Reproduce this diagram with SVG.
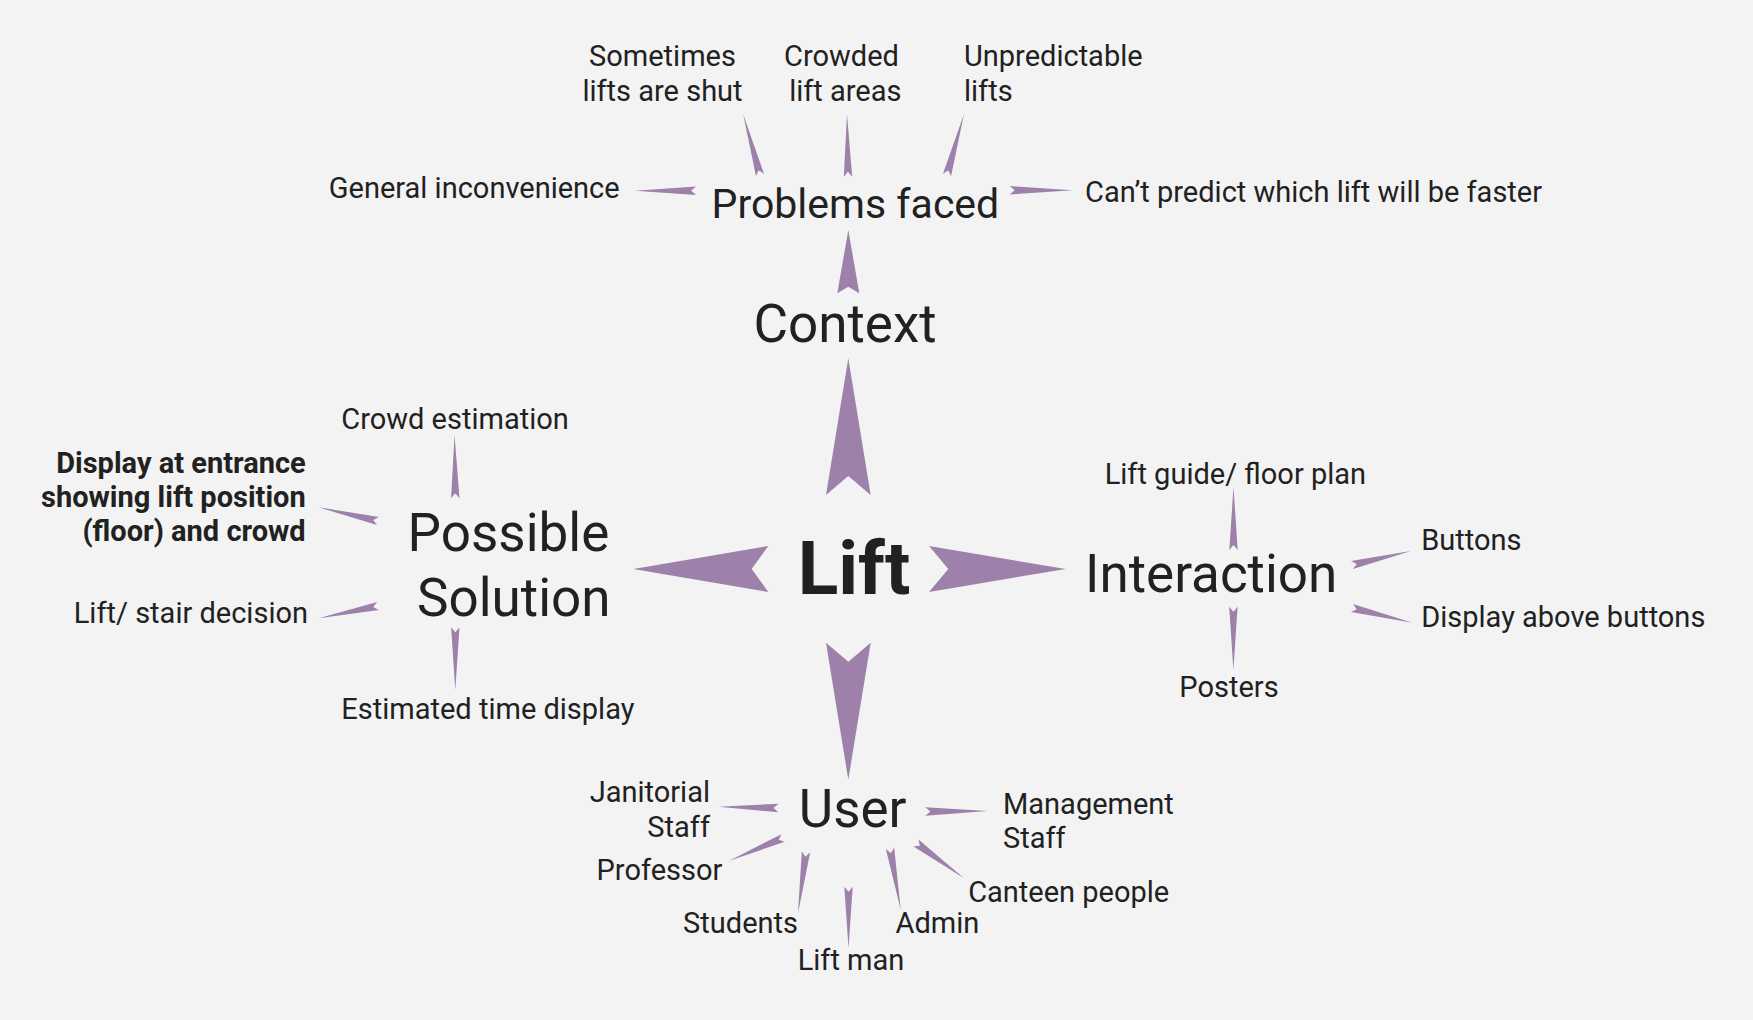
<svg xmlns="http://www.w3.org/2000/svg" xmlns:xlink="http://www.w3.org/1999/xlink" width="1753" height="1020" viewBox="0 0 1753 1020">
<style>
.t{font-family:Roboto,"Liberation Sans",sans-serif;font-size:29px;fill:#212121}
.b{font-weight:bold}
.m{font-size:53px}
.lift{font-size:75px}
.pf{font-size:41px}
.d{fill:#9d81ab}
</style>
<defs>
<path id="sd" d="M0,-4.2 L100,0 L0,4.2 L8,0 Z"/>
</defs>
<rect width="1753" height="1020" fill="#f3f3f3"/>
<g id="connectors" class="d">
<polygon points="848.3,358.3 870.7,495 848.3,476 826,495"/>
<polygon points="633.3,569 768.3,546 751.7,569 768.3,592"/>
<polygon points="1065.7,569 929,546 948.3,569 929,592"/>
<polygon points="848.3,779.7 870.7,642.7 848.3,661.7 826,642.7"/>
<polygon points="848.3,230 859.3,293.3 848.3,286.7 837.3,293.3"/>
<use xlink:href="#sd" transform="translate(760,175) rotate(-105.5) scale(0.63,1)"/>
<use xlink:href="#sd" transform="translate(848,176.7) rotate(-90.9) scale(0.624,1)"/>
<use xlink:href="#sd" transform="translate(947,175) rotate(-74.4) scale(0.63,1)"/>
<use xlink:href="#sd" transform="translate(696,190.7) rotate(180) scale(0.613,1)"/>
<use xlink:href="#sd" transform="translate(1009.6,190.3) rotate(0) scale(0.631,1)"/>
<use xlink:href="#sd" transform="translate(455.3,498.3) rotate(-90.7) scale(0.633,1)"/>
<use xlink:href="#sd" transform="translate(378,521) rotate(-167) scale(0.609,1)"/>
<use xlink:href="#sd" transform="translate(378,606) rotate(168.3) scale(0.606,1)"/>
<use xlink:href="#sd" transform="translate(455.3,627.3) rotate(90) scale(0.627,1)"/>
<use xlink:href="#sd" transform="translate(1233.5,550) rotate(-90) scale(0.633,1)"/>
<use xlink:href="#sd" transform="translate(1352,565) rotate(-13.3) scale(0.606,1)"/>
<use xlink:href="#sd" transform="translate(1352,608) rotate(13.7) scale(0.621,1)"/>
<use xlink:href="#sd" transform="translate(1233.4,606.7) rotate(90) scale(0.633,1)"/>
<use xlink:href="#sd" transform="translate(778.4,808) rotate(181.2) scale(0.6,1)"/>
<use xlink:href="#sd" transform="translate(925.3,811.5) rotate(-0.5) scale(0.625,1)"/>
<use xlink:href="#sd" transform="translate(783,838) rotate(157.1) scale(0.582,1)"/>
<use xlink:href="#sd" transform="translate(806,851.7) rotate(97.4) scale(0.621,1)"/>
<use xlink:href="#sd" transform="translate(848.5,886.7) rotate(90) scale(0.616,1)"/>
<use xlink:href="#sd" transform="translate(890,848.3) rotate(80.1) scale(0.626,1)"/>
<use xlink:href="#sd" transform="translate(916,843) rotate(36.3) scale(0.596,1)"/>
</g>
<g id="lift"><text class="t b lift" x="854" y="594" text-anchor="middle">Lift</text></g>
<g id="context"><text class="t m" x="845" y="342" text-anchor="middle">Context</text></g>
<g id="problems-faced"><text class="t pf" x="855.4" y="218" text-anchor="middle">Problems faced</text></g>
<g id="sometimes-shut"><text class="t" text-anchor="middle"><tspan x="662.5" y="66">Sometimes</tspan><tspan x="662.5" y="100.5">lifts are shut</tspan></text></g>
<g id="crowded-lift-areas"><text class="t" text-anchor="middle"><tspan x="841.5" y="66">Crowded</tspan><tspan x="845.3" y="100.5">lift areas</tspan></text></g>
<g id="unpredictable-lifts"><text class="t"><tspan x="964" y="66">Unpredictable</tspan><tspan x="964" y="100.5">lifts</tspan></text></g>
<g id="general-inconvenience"><text class="t" x="619.7" y="198" text-anchor="end">General inconvenience</text></g>
<g id="cant-predict"><text class="t" x="1085" y="202">Can’t predict which lift will be faster</text></g>
<g id="possible-solution"><text class="t m"><tspan x="407.6" y="551.3">Possible</tspan><tspan x="417" y="616">Solution</tspan></text></g>
<g id="crowd-estimation"><text class="t" x="341.3" y="428.5">Crowd estimation</text></g>
<g id="display-entrance"><text class="t b" text-anchor="end"><tspan x="305.7" y="472.7">Display at entrance</tspan><tspan x="305.7" y="507">showing lift position</tspan><tspan x="305.7" y="541.3">(floor) and crowd</tspan></text></g>
<g id="lift-stair"><text class="t" x="308" y="622.5" text-anchor="end">Lift/ stair decision</text></g>
<g id="estimated-time"><text class="t" x="341.3" y="719">Estimated time display</text></g>
<g id="interaction"><text class="t m" x="1085" y="592">Interaction</text></g>
<g id="lift-guide"><text class="t" x="1104.7" y="483.7">Lift guide/ floor plan</text></g>
<g id="buttons"><text class="t" x="1421.2" y="550">Buttons</text></g>
<g id="display-above"><text class="t" x="1421.2" y="626.5">Display above buttons</text></g>
<g id="posters"><text class="t" x="1229" y="696.5" text-anchor="middle">Posters</text></g>
<g id="user"><text class="t m" x="798.8" y="826.5">User</text></g>
<g id="janitorial"><text class="t" text-anchor="end"><tspan x="710" y="801.5">Janitorial</tspan><tspan x="710" y="836.5">Staff</tspan></text></g>
<g id="management"><text class="t"><tspan x="1003" y="814">Management</tspan><tspan x="1003" y="847.5">Staff</tspan></text></g>
<g id="professor"><text class="t" x="722.4" y="880" text-anchor="end">Professor</text></g>
<g id="students"><text class="t" x="798" y="933.2" text-anchor="end">Students</text></g>
<g id="lift-man"><text class="t" x="851" y="970.3" text-anchor="middle">Lift man</text></g>
<g id="admin"><text class="t" x="895.5" y="933.2">Admin</text></g>
<g id="canteen"><text class="t" x="968.2" y="901.5">Canteen people</text></g>
</svg>
